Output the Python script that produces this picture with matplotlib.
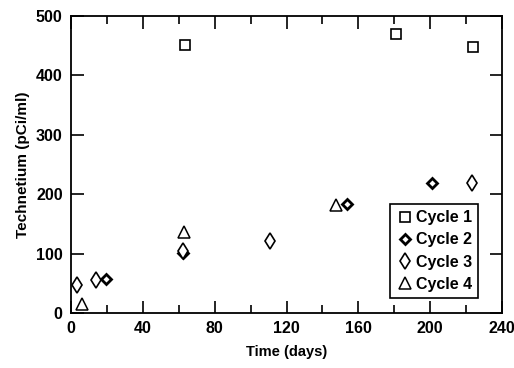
import matplotlib.pyplot as plt
from matplotlib.ticker import MultipleLocator
from matplotlib.transforms import ScaledTranslation

plt.rcParams['font.family'] = ['Liberation Sans', 'DejaVu Sans']
plt.rcParams['font.weight'] = 'bold'

# ================================
# Data
# ================================
c1_days = [63.5, 181, 224]
c1_tc = [451, 469, 447]

c2_days = [19.5, 62.5, 153.5, 201]
c2_tc = [57, 101, 184, 219]

c3_days = [3.5, 14, 62.5, 111, 223.5]
c3_tc = [47, 55, 104, 121, 219]

c4_days = [6, 63, 147.5]
c4_tc = [15, 137, 182]

fig = plt.figure(figsize=(5.14, 3.68), dpi=100)
ax = fig.add_axes([71 / 514, 1 - 313 / 368, 431 / 514, 297 / 368])

mk = dict(linestyle='none', color='black', markerfacecolor='white')
ax.plot(c1_days, c1_tc, marker='s', markersize=7, markeredgewidth=1.2, label='Cycle 1', **mk)
ax.plot(c2_days, c2_tc, marker='D', markersize=5, markeredgewidth=2.0, label='Cycle 2', **mk)
ax.plot(c3_days, c3_tc, marker='d', markersize=8.5, markeredgewidth=1.2, label='Cycle 3', **mk)
ax.plot(c4_days, c4_tc, marker='^', markersize=8, markeredgewidth=1.1, label='Cycle 4', **mk)

ax.set_xlim(0, 240)
ax.set_ylim(0, 500)
ax.xaxis.set_major_locator(MultipleLocator(40))
ax.xaxis.set_minor_locator(MultipleLocator(20))
ax.yaxis.set_major_locator(MultipleLocator(100))
ax.tick_params(which='both', direction='in', top=True, right=True, width=1.2,
               labelsize=11.5, pad=6)
ax.tick_params(which='major', length=9)
ax.tick_params(which='minor', length=6)
for s in ax.spines.values():
    s.set_linewidth(1.3)

# keep the last x label inside the figure
fig.canvas.draw()
last = ax.get_xticklabels()[-1]
last.set_transform(last.get_transform() + ScaledTranslation(-8 / 100, 0, fig.dpi_scale_trans))

ax.set_xlabel('Time (days)', fontsize=10.5, fontweight='bold', labelpad=6)
ax.set_ylabel('Technetium (pCi/ml)', fontsize=11, fontweight='bold', labelpad=4)

leg = ax.legend(loc='lower right', bbox_to_anchor=(0.945, 0.05), fancybox=False,
                framealpha=1, edgecolor='black', fontsize=11.5, handletextpad=0.2,
                handlelength=1.0, borderpad=0.4, labelspacing=0.45, borderaxespad=0)
leg.get_frame().set_linewidth(1.2)

fig.savefig('out.png', dpi=100)
